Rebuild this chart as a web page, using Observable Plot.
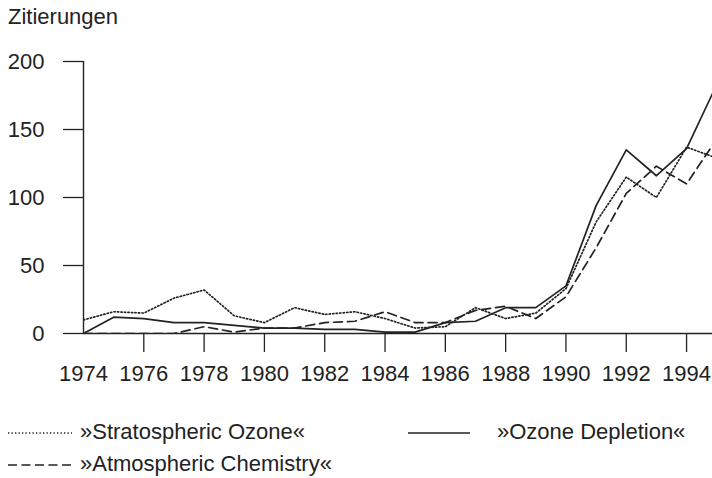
<!DOCTYPE html>
<html><head><meta charset="utf-8">
<script src="https://cdn.jsdelivr.net/npm/d3@7"></script>
<script src="https://cdn.jsdelivr.net/npm/@observablehq/plot@0.6"></script>
<style>
body{margin:0;background:#fff;font-family:"Liberation Sans",Arial,sans-serif;color:#222;}
#wrap{position:relative;width:712px;height:478px;overflow:hidden;}
#title{position:absolute;left:8px;top:6px;font-size:22px;line-height:1;}
#chart{position:absolute;left:0;top:0;}
.leg{position:absolute;font-size:22px;line-height:1;display:flex;align-items:center;white-space:nowrap;}
.leg svg{display:block;}
</style></head>
<body>
<div id="wrap">
  <div id="chart"></div>
  <div id="title">Zitierungen</div>
  <div id="legend"></div>
</div>
<script>
const years = [1974,1975,1976,1977,1978,1979,1980,1981,1982,1983,1984,1985,1986,1987,1988,1989,1990,1991,1992,1993,1994,1995];
const stratosphericOzone   = [10,16,15,26,32,13,8,19,14,16,11,4,5,19,11,15,33,82,115,100,137,129];
const ozoneDepletion       = [0,12,11,8,8,6,4,4,3,3,1,1,8,9,19,19,35,94,135,116,136,183];
const atmosphericChemistry = [0,0,0,0,5,1,4,4,8,9,16,8,8,17,20,11,27,63,103,123,110,143];
const yTicks = [0,50,100,150,200];
const xTickMarks = [1976,1978,1980,1982,1984,1986,1988,1990,1992,1994];
const xTickLabels = [1974,1976,1978,1980,1982,1984,1986,1988,1990,1992,1994];
const seriesNames = ["»Stratospheric Ozone«","»Ozone Depletion«","»Atmospheric Chemistry«"];

const toRows = vals => years.map((y,i)=>({year:y, value:vals[i]}));
const ink = "#222";

const chart = Plot.plot({
  width: 712, height: 390,
  marginLeft: 83, marginRight: 0, marginTop: 61, marginBottom: 57,
  style: {fontSize:"22px", fontFamily:"'Liberation Sans', Arial, sans-serif", color: ink, background:"white"},
  x: {domain:[1974, 1994.86], label:null},
  y: {domain:[0,200], label:null},
  marks: [
    Plot.line(toRows(stratosphericOzone), {x:"year", y:"value", stroke:ink, strokeWidth:1.7, strokeDasharray:"1.3,2.2", clip:true}),
    Plot.line(toRows(atmosphericChemistry), {x:"year", y:"value", stroke:ink, strokeWidth:1.7, strokeDasharray:"9,5", clip:true}),
    Plot.line(toRows(ozoneDepletion), {x:"year", y:"value", stroke:ink, strokeWidth:1.7, clip:true}),
    Plot.ruleY([0], {stroke:ink, strokeWidth:1.4}),
    Plot.ruleX([1974], {stroke:ink, strokeWidth:1.4}),
    Plot.axisY({ticks:yTicks, tickSize:20, tickPadding:19, label:null, strokeWidth:1.3}),
    Plot.axisX({ticks:xTickMarks, tickSize:19, tickFormat:()=>"", label:null, strokeWidth:1.3}),
    Plot.axisX({ticks:xTickLabels, tickSize:0, tickPadding:32, tickFormat:d=>String(d), label:null})
  ]
});
document.getElementById("chart").appendChild(chart);

// Legend
const legend = document.getElementById("legend");
const items = [
  {name:seriesNames[0], left:8, top:421, w:64, gap:8, dash:"1.3,2.2"},
  {name:seriesNames[1], left:408, top:421, w:62, gap:27, dash:null},
  {name:seriesNames[2], left:8, top:453, w:64, gap:8, dash:"9,4.5"}
];
items.forEach(it=>{
  const d = document.createElement("div");
  d.className = "leg";
  d.style.left = it.left+"px"; d.style.top = it.top+"px";
  d.innerHTML = `<svg width="${it.w}" height="22"><line x1="0" x2="${it.w}" y1="12" y2="12" stroke="${ink}" stroke-width="1.6" ${it.dash?`stroke-dasharray="${it.dash}"`:""}/></svg><span style="margin-left:${it.gap}px">${it.name}</span>`;
  legend.appendChild(d);
});
</script>
</body></html>
